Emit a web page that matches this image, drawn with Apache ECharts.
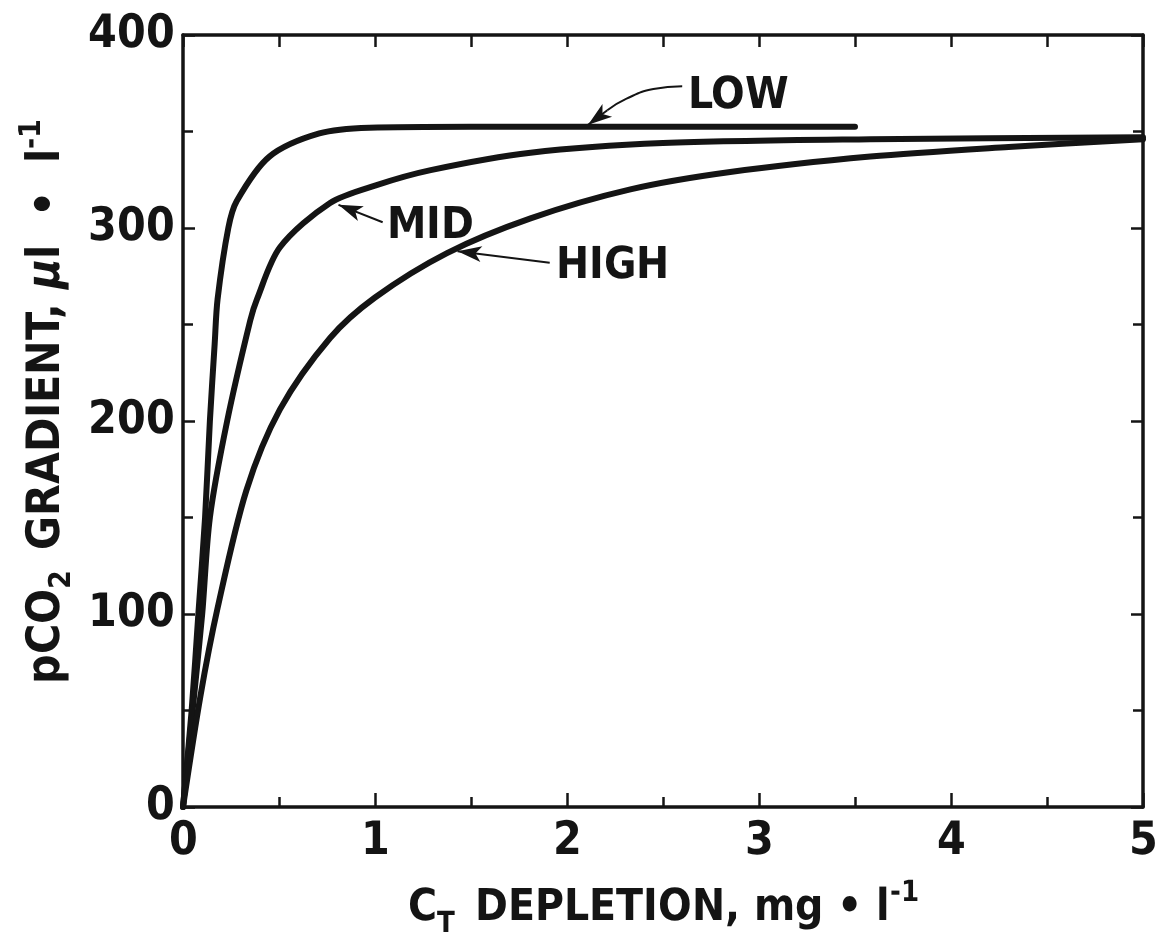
<!DOCTYPE html>
<html>
<head>
<meta charset="utf-8">
<script src="https://cdn.jsdelivr.net/npm/echarts@6/dist/echarts.min.js"></script>
<style>
  @font-face {
    font-family: 'CondBold';
    src: local('DejaVu Sans Condensed Bold'), local('DejaVuSansCondensed-Bold'), local('Liberation Sans Narrow Bold'), local('LiberationSansNarrow-Bold');
    font-weight: bold;
  }
  @font-face {
    font-family: 'CondBold';
    src: local('DejaVu Sans Condensed Bold Oblique'), local('DejaVuSansCondensed-BoldOblique');
    font-weight: bold;
    font-style: italic;
  }
  html, body { margin: 0; padding: 0; background: #fff; }
  #chart { width: 1155px; height: 947px; }
</style>
</head>
<body>
<div id="chart"></div>
<script>
// curves: [CT depletion, pCO2 gradient]
const lowCurve = [[0, 0], [0.045, 50], [0.08, 100], [0.115, 150], [0.14, 200], [0.165, 240], [0.18, 263],
  [0.236, 300], [0.28, 314], [0.45, 337], [0.71, 349], [0.97, 352], [1.5, 352.5], [3.5, 352.5]];
const midCurve = [[0, 0], [0.05, 50], [0.1, 100], [0.14, 150], [0.23, 200], [0.35, 252], [0.385, 263],
  [0.505, 290], [0.766, 313], [1.0, 322], [1.29, 330], [1.81, 339], [2.5, 344], [3.58, 346], [5, 347]];
const highCurve = [[0, 0], [0.09, 57], [0.18, 103], [0.33, 164], [0.505, 206], [0.766, 243], [1.0, 264],
  [1.375, 287], [1.81, 305], [2.33, 320], [2.85, 329], [3.58, 337], [4.3, 342], [5, 346]];

const xTicks = [0, 1, 2, 3, 4, 5];
const yTicks = [0, 100, 200, 300, 400];

// labels and their arrows, in data units
const labelLow = { name: 'LOW', at: [2.63, 368], arrowFrom: [2.21, 361], arrowTo: [2.11, 353.5] };
const lowArrowPath = [[2.6, 373.5], [2.45, 372], [2.31, 367], [2.21, 361]];
const labelMid = { name: 'MID', at: [1.06, 301], arrowFrom: [1.04, 303], arrowTo: [0.81, 312] };
const labelHigh = { name: 'HIGH', at: [1.94, 280], arrowFrom: [1.91, 282], arrowTo: [1.43, 288] };

const FONT = 'CondBold, "Liberation Sans Narrow", "DejaVu Sans", sans-serif';
const INK = '#141414';

function textMark(lab) {
  return {
    symbol: 'circle',
    symbolSize: 1,
    itemStyle: { color: 'rgba(0,0,0,0)' },
    data: [{ coord: lab.at, value: lab.name }],
    label: {
      show: true, position: 'right', distance: 0,
      formatter: lab.name, color: INK, fontFamily: FONT, fontWeight: 'bold', fontSize: 44
    }
  };
}

function arrowMark(lab) {
  return {
    silent: true,
    symbol: ['none', 'arrow'],
    symbolSize: [12, 24],
    label: { show: false },
    lineStyle: { color: INK, width: 2, type: 'solid' },
    data: [[{ coord: lab.arrowFrom }, { coord: lab.arrowTo }]]
  };
}

function curveSeries(name, data, lab) {
  return {
    name: name,
    type: 'line',
    data: data,
    smooth: 0.3,
    showSymbol: false,
    lineStyle: { color: INK, width: 6, cap: 'round', join: 'round' },
    markLine: arrowMark(lab),
    markPoint: textMark(lab),
    z: 3
  };
}

function render() {
  let chart = echarts.init(document.getElementById('chart'));
  let tickLabel = { color: INK, fontFamily: FONT, fontWeight: 'bold', fontSize: 46 };
  let frameLine = { show: true, onZero: false, lineStyle: { color: INK, width: 3.5 } };
  function richName(size) {
    let sub = Math.round(size * 0.66);
    return {
      a: { fontFamily: FONT, fontWeight: 'bold', fontSize: size, color: INK, lineHeight: 60, verticalAlign: 'middle' },
      mu: { fontFamily: FONT, fontWeight: 'bold', fontStyle: 'italic', fontSize: size, color: INK, lineHeight: 60, verticalAlign: 'middle' },
      sub: { fontFamily: FONT, fontWeight: 'bold', fontSize: sub, color: INK, lineHeight: 60, verticalAlign: 'bottom', padding: [0, 6, 0, 0] },
      sup: { fontFamily: FONT, fontWeight: 'bold', fontSize: sub, color: INK, lineHeight: 60, verticalAlign: 'top' }
    };
  }

  let options = {
    backgroundColor: '#fff',
    animation: false,
    grid: { left: 183, right: 12, top: 35, bottom: 140, outerBoundsMode: 'none', containLabel: false },
    xAxis: [
      {
        type: 'value', min: 0, max: 5, interval: 1, position: 'bottom',
        axisLine: frameLine,
        axisTick: { show: true, inside: true, length: 14, lineStyle: { color: INK, width: 2.5 } },
        minorTick: { show: true, splitNumber: 2, length: 10, lineStyle: { color: INK, width: 2.5 } },
        splitLine: { show: false },
        axisLabel: Object.assign({ margin: 12, formatter: v => xTicks.includes(v) ? String(v) : '' }, tickLabel),
        name: '{a|C}{sub|T}{a| DEPLETION, mg • l}{sup|-1}',
        nameLocation: 'middle', nameGap: 72,
        nameTextStyle: { rich: richName(44) }
      },
      {
        type: 'value', min: 0, max: 5, interval: 1, position: 'top',
        axisLine: frameLine,
        axisTick: { show: true, inside: true, length: 12, lineStyle: { color: INK, width: 2.5 } },
        minorTick: { show: true, splitNumber: 2, length: 12, lineStyle: { color: INK, width: 2.5 } },
        splitLine: { show: false },
        axisLabel: { show: false }
      }
    ],
    yAxis: [
      {
        type: 'value', min: 0, max: 400, interval: 100, position: 'left',
        axisLine: frameLine,
        axisTick: { show: true, inside: true, length: 12, lineStyle: { color: INK, width: 2.5 } },
        minorTick: { show: true, splitNumber: 2, length: 10, lineStyle: { color: INK, width: 2.5 } },
        splitLine: { show: false },
        axisLabel: Object.assign({ margin: 8, formatter: v => yTicks.includes(v) ? String(v) : '' }, tickLabel),
        name: '{a|pCO}{sub|2}{a| GRADIENT, }{mu|μ}{a|l  •  l}{sup|-1}',
        nameLocation: 'middle', nameGap: 106, nameRotate: 90,
        nameTextStyle: { rich: richName(46), padding: [0, 0, 0, 40] }
      },
      {
        type: 'value', min: 0, max: 400, interval: 100, position: 'right',
        axisLine: frameLine,
        axisTick: { show: true, inside: true, length: 12, lineStyle: { color: INK, width: 2.5 } },
        minorTick: { show: true, splitNumber: 2, length: 10, lineStyle: { color: INK, width: 2.5 } },
        splitLine: { show: false },
        axisLabel: { show: false }
      }
    ],
    series: [
      curveSeries('LOW', lowCurve, labelLow),
      curveSeries('MID', midCurve, labelMid),
      curveSeries('HIGH', highCurve, labelHigh),
      {
        // curved shaft of the LOW pointer
        name: 'lowArrow',
        type: 'line',
        data: lowArrowPath,
        smooth: 0.5,
        showSymbol: false,
        silent: true,
        lineStyle: { color: INK, width: 2 },
        z: 2
      }
    ]
  };
  chart.setOption(options);
}

Promise.all([
  document.fonts.load('bold 46px CondBold'),
  document.fonts.load('italic bold 46px CondBold')
]).then(render, render);
</script>
</body>
</html>
